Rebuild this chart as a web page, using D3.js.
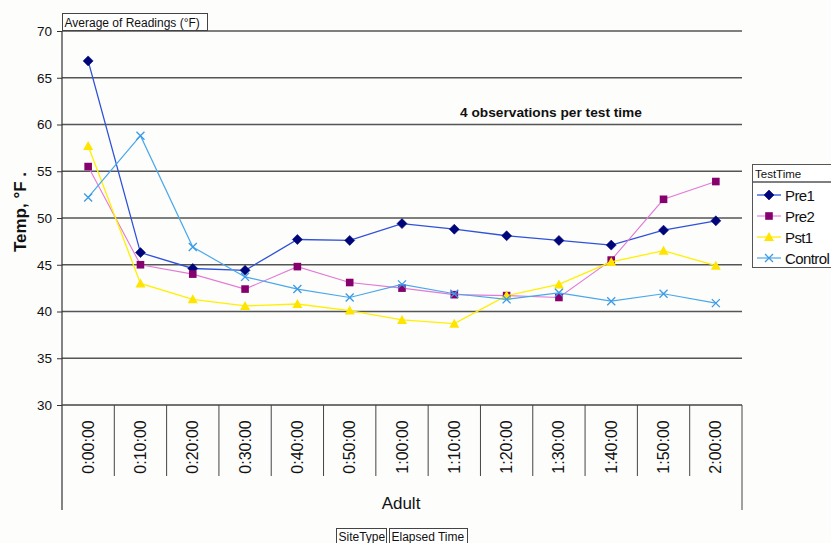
<!DOCTYPE html>
<html>
<head>
<meta charset="utf-8">
<script src="https://cdn.jsdelivr.net/npm/d3@7"></script>
<style>
  html, body { margin: 0; padding: 0; background: #fdfdfc; }
  svg { display: block; font-family: "Liberation Sans", Arial, sans-serif; }
</style>
</head>
<body>
<svg id="chart" width="831" height="543"></svg>
<script>
// Elapsed time categories (Adult site type)
const categories = ["0:00:00", "0:10:00", "0:20:00", "0:30:00", "0:40:00", "0:50:00",
  "1:00:00", "1:10:00", "1:20:00", "1:30:00", "1:40:00", "1:50:00", "2:00:00"];

// Average readings (°F) per test time
const pre1    = [66.8, 46.3, 44.6, 44.4, 47.7, 47.6, 49.4, 48.8, 48.1, 47.6, 47.1, 48.7, 49.7];
const pre2    = [55.5, 45.0, 44.0, 42.4, 44.8, 43.1, 42.5, 41.8, 41.7, 41.5, 45.5, 52.0, 53.9];
const pst1    = [57.7, 43.0, 41.3, 40.6, 40.8, 40.1, 39.1, 38.7, 41.7, 42.9, 45.3, 46.5, 44.9];
const control = [52.2, 58.8, 46.9, 43.7, 42.4, 41.5, 42.9, 41.9, 41.3, 42.0, 41.1, 41.9, 40.9];

const yTicks = [30, 35, 40, 45, 50, 55, 60, 65, 70];

const seriesNames = ["Pre1", "Pre2", "Pst1", "Control"];
const seriesValues = [pre1, pre2, pst1, control];
const seriesStyle = {
  Pre1:    { line: "#2f52d8", marker: "#00067a", shape: "diamond", lw: 1.3 },
  Pre2:    { line: "#e27ad6", marker: "#86006e", shape: "square",  lw: 1.1 },
  Pst1:    { line: "#fff000", marker: "#ffe400", shape: "triangle", lw: 1.3 },
  Control: { line: "#4aa8ea", marker: "#3a9ae6", shape: "x", lw: 1.2 }
};

const svg = d3.select("#chart");
const plotLeft = 62, plotRight = 742, plotTop = 31, plotBottom = 405;

const x = d3.scaleBand().domain(categories).range([plotLeft, plotRight]).padding(0);
const y = d3.scaleLinear().domain([30, 70]).range([plotBottom, plotTop]);

const gridColor = "#555";

// Horizontal gridlines
svg.append("g").selectAll("line").data(yTicks.filter(t => t > 30)).join("line")
  .attr("x1", plotLeft).attr("x2", plotRight)
  .attr("y1", d => y(d)).attr("y2", d => y(d))
  .attr("stroke", gridColor).attr("stroke-width", 1.4);

// Value axis
const yAxis = d3.axisLeft(y).tickValues(yTicks).tickSize(5).tickPadding(5);
const gy = svg.append("g").attr("transform", `translate(${plotLeft},0)`).call(yAxis);
gy.select(".domain").remove();
gy.selectAll(".tick line").attr("stroke", "#333");
gy.selectAll(".tick text").attr("font-size", 13.5).attr("fill", "#111")
  .attr("font-family", "Liberation Sans, Arial, sans-serif");
svg.append("line").attr("x1", plotLeft).attr("x2", plotLeft).attr("y1", plotTop).attr("y2", 510)
  .attr("stroke", "#333").attr("stroke-width", 1.2);
svg.append("line").attr("x1", plotLeft).attr("x2", plotRight).attr("y1", plotBottom).attr("y2", plotBottom)
  .attr("stroke", "#444").attr("stroke-width", 1.3);

// Category grid under the axis
const bounds = categories.map(c => x(c)).concat([plotRight]);
svg.append("g").selectAll("line").data(bounds.slice(1, -1)).join("line")
  .attr("x1", d => d).attr("x2", d => d).attr("y1", plotBottom).attr("y2", 476)
  .attr("stroke", "#444").attr("stroke-width", 1);
svg.append("line").attr("x1", plotRight).attr("x2", plotRight).attr("y1", plotBottom).attr("y2", 510)
  .attr("stroke", "#444").attr("stroke-width", 1);

svg.append("g").selectAll("text").data(categories).join("text")
  .attr("transform", d => `translate(${x(d) + x.bandwidth() / 2 + 5.5},447) rotate(-90)`)
  .attr("text-anchor", "middle").attr("font-size", 16).attr("fill", "#111")
  .text(d => d);

svg.append("text").attr("x", 401).attr("y", 509).attr("text-anchor", "middle")
  .attr("font-size", 17).attr("fill", "#111").text("Adult");

// Axis title
svg.append("text").attr("transform", "translate(26,212) rotate(-90)")
  .attr("text-anchor", "middle").attr("font-size", 17).attr("font-weight", "bold")
  .attr("fill", "#111").text("Temp, °F .");

// Annotation
svg.append("text").attr("x", 551).attr("y", 117).attr("text-anchor", "middle")
  .attr("font-size", 13.7).attr("font-weight", "bold").attr("fill", "#111")
  .text("4 observations per test time");

// Field buttons
function fieldButton(x0, y0, w, h, label, fs) {
  svg.append("rect").attr("x", x0).attr("y", y0).attr("width", w).attr("height", h)
    .attr("fill", "#fff").attr("stroke", "#444").attr("stroke-width", 1);
  svg.append("text").attr("x", x0 + 2).attr("y", y0 + h - 4).attr("font-size", fs)
    .attr("fill", "#111").text(label);
}
fieldButton(62.5, 13.5, 145, 17, "Average of Readings (°F)", 12);
fieldButton(336.5, 528.5, 50, 16, "SiteType", 12);
fieldButton(389.5, 528.5, 78, 16, "Elapsed Time", 12);

// Marker drawing
function drawMarker(g, shape, cx, cy, style) {
  if (shape === "diamond") {
    g.append("path").attr("d", `M${cx},${cy - 5}L${cx + 5},${cy}L${cx},${cy + 5}L${cx - 5},${cy}Z`)
      .attr("fill", style.marker).attr("stroke", style.marker).attr("stroke-width", 0.6);
  } else if (shape === "square") {
    g.append("rect").attr("x", cx - 3.8).attr("y", cy - 3.8).attr("width", 7.6).attr("height", 7.6)
      .attr("fill", style.marker);
  } else if (shape === "triangle") {
    g.append("path").attr("d", `M${cx},${cy - 5}L${cx + 5},${cy + 4}L${cx - 5},${cy + 4}Z`)
      .attr("fill", style.marker);
  } else {
    g.append("path").attr("d", `M${cx - 4},${cy - 4}L${cx + 4},${cy + 4}M${cx - 4},${cy + 4}L${cx + 4},${cy - 4}`)
      .attr("stroke", style.marker).attr("stroke-width", 1.3).attr("fill", "none");
  }
}

// Series lines and markers
const line = d3.line().x((d, i) => x(categories[i]) + x.bandwidth() / 2).y(d => y(d));
seriesNames.forEach((name, k) => {
  const vals = seriesValues[k];
  const st = seriesStyle[name];
  const g = svg.append("g");
  g.append("path").datum(vals).attr("d", line).attr("fill", "none")
    .attr("stroke", st.line).attr("stroke-width", st.lw);
  vals.forEach((v, i) => drawMarker(g, st.shape, x(categories[i]) + x.bandwidth() / 2, y(v), st));
});

// Legend
const lg = svg.append("g");
lg.append("rect").attr("x", 752.5).attr("y", 164.5).attr("width", 90).attr("height", 103)
  .attr("fill", "#fff").attr("stroke", "#555").attr("stroke-width", 1);
lg.append("line").attr("x1", 752.5).attr("x2", 842).attr("y1", 182).attr("y2", 182)
  .attr("stroke", "#555").attr("stroke-width", 1.5);
lg.append("text").attr("x", 755).attr("y", 178).attr("font-size", 11.5).attr("fill", "#111")
  .text("TestTime");
const legendY = [195, 216, 237, 258];
seriesNames.forEach((name, k) => {
  const st = seriesStyle[name];
  const ly = legendY[k];
  lg.append("line").attr("x1", 757).attr("x2", 781).attr("y1", ly).attr("y2", ly)
    .attr("stroke", st.line).attr("stroke-width", st.lw);
  drawMarker(lg, st.shape, 769, ly, st);
  lg.append("text").attr("x", 785).attr("y", ly + 5.5).attr("font-size", 15)
    .attr("letter-spacing", -0.6).attr("fill", "#111").text(name);
});
</script>
</body>
</html>
